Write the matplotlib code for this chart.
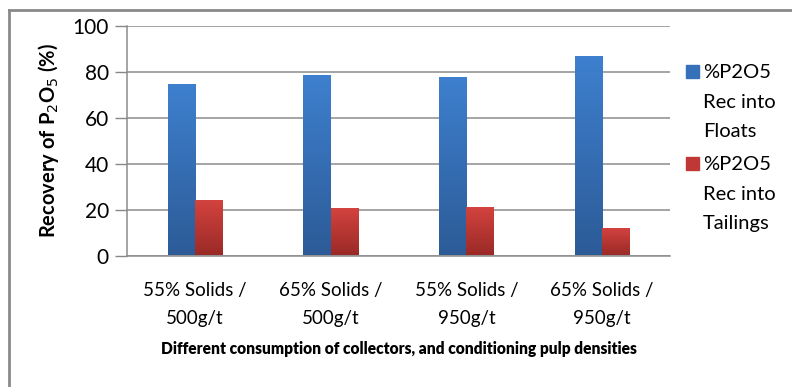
import numpy as np
import matplotlib
matplotlib.use("Agg")
import matplotlib.pyplot as plt
from matplotlib.patches import Rectangle
from matplotlib.lines import Line2D
from matplotlib.colors import LinearSegmentedColormap

categories = ["55% Solids /\n500g/t", "65% Solids /\n500g/t",
              "55% Solids /\n950g/t", "65% Solids /\n950g/t"]
floats = [74.7, 78.5, 77.9, 86.9]
tailings = [24.0, 20.6, 21.1, 11.8]
series_labels = ["%P2O5\nRec into\nFloats", "%P2O5\nRec into\nTailings"]
yticks = [0, 20, 40, 60, 80, 100]

FONT = "Lato"
plt.rcParams["font.family"] = [FONT, "DejaVu Sans"]

fig = plt.figure(figsize=(7.92, 3.87), dpi=100)
W, H = 792, 387
ax = fig.add_axes([127 / W, 1 - 255.5 / H, (670 - 127) / W, (255.5 - 26) / H])

blue_cmap = LinearSegmentedColormap.from_list("b", ["#2C5B97", "#3E80CF"])
red_cmap = LinearSegmentedColormap.from_list("r", ["#9A2A27", "#D4433F"])

x = np.arange(len(categories))
bw = 0.2
grad = np.linspace(0, 1, 256).reshape(-1, 1)


def gradient_bars(xpos, vals, cmap):
    bars = ax.bar(xpos, vals, bw, align="edge", color="none", zorder=3)
    for b in bars:
        x0, y0 = b.get_x(), b.get_y()
        im = ax.imshow(grad, cmap=cmap, origin="lower", aspect="auto",
                       extent=[x0, x0 + b.get_width(), y0, y0 + b.get_height()],
                       zorder=3)
        im.set_clip_path(b)
    return bars


gradient_bars(x + 0.5 - bw, floats, blue_cmap)
gradient_bars(x + 0.5, tailings, red_cmap)

ax.set_xlim(0, len(categories))
ax.set_ylim(0, 100)
ax.set_yticks(yticks)
ax.set_xticks(x + 0.5)
ax.set_xticklabels(categories, fontsize=13.5, linespacing=1.8)
ax.tick_params(axis="y", labelsize=15, length=9, color="#888888", width=1, pad=4)
ax.tick_params(axis="x", length=0, pad=19)
ax.yaxis.grid(True, color="#8c8c8c", linewidth=1.1, zorder=0)
ax.set_axisbelow(True)
for s in ["top", "right"]:
    ax.spines[s].set_visible(False)
for s in ["left", "bottom"]:
    ax.spines[s].set_color("#8c8c8c")
    ax.spines[s].set_linewidth(1.1)

ax.set_ylabel("Recovery of P$_2$O$_5$ (%)", fontsize=14.5, fontweight="bold", labelpad=8)
ax.set_xlabel("Different consumption of collectors, and conditioning pulp densities",
              fontsize=11.2, fontweight="heavy", labelpad=10)

# legend drawn as swatches and stacked text
leg_colors = ["#3570B8", "#C03835"]
leg_tops = [72, 164]
for col, lab, ty in zip(leg_colors, series_labels, leg_tops):
    fig.add_artist(Rectangle((686 / W, 1 - (ty + 6) / H), 13 / W, 13 / H,
                             transform=fig.transFigure, color=col))
    for i, line in enumerate(lab.split("\n")):
        fig.text(703 / W, 1 - (ty + i * 30) / H, line, fontsize=14.5,
                 va="center", ha="left")

# outer frame (top and left edges)
fig.add_artist(Line2D([9 / W, 1], [1 - 9.5 / H, 1 - 9.5 / H],
                      transform=fig.transFigure, color="#8a8a8a", lw=2))
fig.add_artist(Line2D([9 / W, 9 / W], [0, 1 - 9.5 / H],
                      transform=fig.transFigure, color="#8a8a8a", lw=2))

fig.savefig("out.png", dpi=100)
